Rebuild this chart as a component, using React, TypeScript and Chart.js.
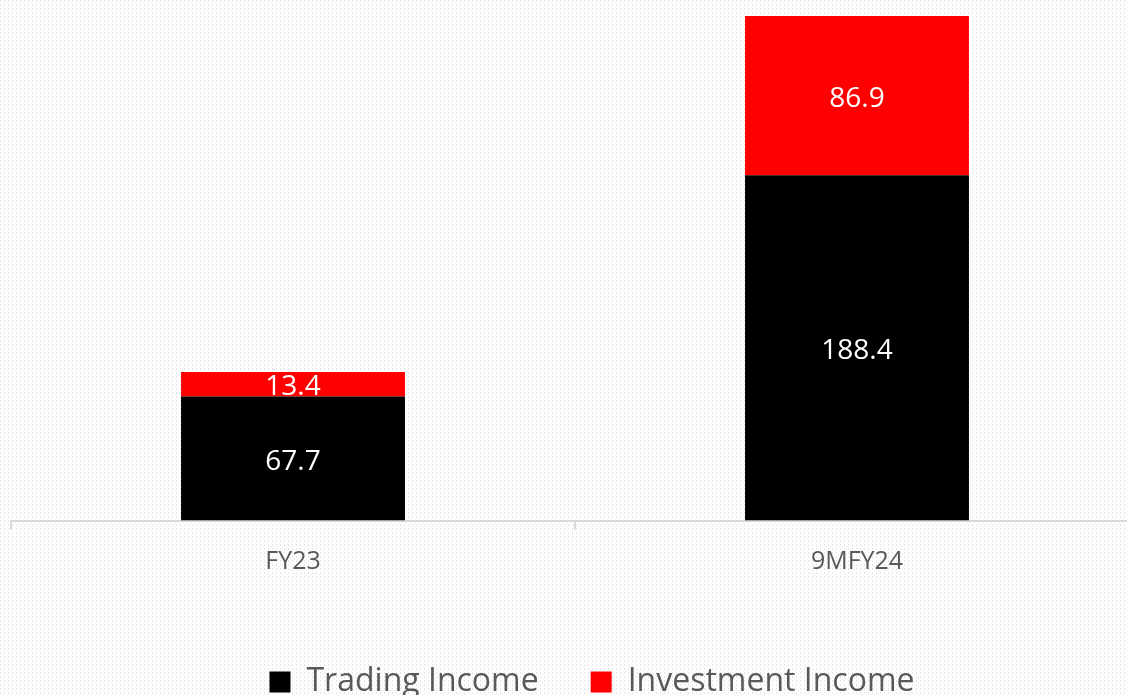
import React, { useEffect, useRef } from "react";
import { Chart, registerables } from "chart.js";

Chart.register(...registerables);

const categories = ["FY23", "9MFY24"];
const tradingIncome = [67.7, 188.4];
const investmentIncome = [13.4, 86.9];
const seriesNames = ["Trading Income", "Investment Income"];

const bgPlugin = {
  id: "bgPattern",
  beforeDraw(chart: any) {
    const { ctx, width, height } = chart;
    const tile = document.createElement("canvas");
    tile.width = 4;
    tile.height = 4;
    const t = tile.getContext("2d")!;
    t.fillStyle = "#ffffff";
    t.fillRect(0, 0, 4, 4);
    t.fillStyle = "#e6e6e6";
    t.fillRect(0, 0, 1, 2);
    t.fillStyle = "#eeeeee";
    t.fillRect(2, 2, 1, 1);
    const pat = ctx.createPattern(tile, "repeat");
    ctx.save();
    ctx.fillStyle = pat;
    ctx.fillRect(0, 0, width, height);
    ctx.restore();
  },
};

const legendShift = {
  id: "legendShift",
  afterLayout(chart: any) {
    const lg = chart.legend;
    if (lg) {
      lg.left += 17;
      lg.right += 17;
    }
  },
};

const labelPlugin = {
  id: "barLabels",
  afterDatasetsDraw(chart: any) {
    const { ctx } = chart;
    ctx.save();
    ctx.fillStyle = "#ffffff";
    ctx.font = "28px 'Open Sans'";
    ctx.textAlign = "center";
    ctx.textBaseline = "middle";
    chart.data.datasets.forEach((ds: any, i: number) => {
      const meta = chart.getDatasetMeta(i);
      meta.data.forEach((bar: any, j: number) => {
        const v = ds.data[j];
        const y = (bar.y + bar.base) / 2 + 3;
        ctx.fillText(v.toFixed(1), bar.x, y);
      });
    });
    ctx.restore();
  },
};

export default function App() {
  const ref = useRef<HTMLCanvasElement>(null);
  useEffect(() => {
    const chart = new Chart(ref.current!, {
      type: "bar",
      data: {
        labels: categories,
        datasets: [
          { label: seriesNames[0], data: tradingIncome, backgroundColor: "#000000" },
          { label: seriesNames[1], data: investmentIncome, backgroundColor: "#ff0000" },
        ],
      },
      options: {
        animation: false,
        responsive: false,
        devicePixelRatio: 1,
        layout: { padding: { left: 11, right: 11, top: 0, bottom: 0 } },
        datasets: { bar: { barPercentage: 0.397, categoryPercentage: 1 } },
        scales: {
          x: {
            stacked: true,
            grid: {
              offset: true,
              drawOnChartArea: false,
              drawTicks: true,
              tickLength: 9,
              color: "#d9d9d9",
              lineWidth: 2,
            },
            border: { display: true, color: "#d9d9d9", width: 2 },
            ticks: {
              color: "#595959",
              font: { family: "'Open Sans'", size: 25 },
              padding: 17,
            },
            title: {
              display: true,
              text: " ",
              color: "rgba(0,0,0,0)",
              font: { size: 12 },
              padding: { top: 0, bottom: 6 },
            },
          },
          y: {
            stacked: true,
            display: false,
            min: 0,
            max: 284,
          },
        },
        plugins: {
          legend: {
            position: "bottom",
            labels: {
              boxWidth: 21,
              boxHeight: 21,
              padding: 52,
              color: "#595959",
              font: { family: "'Open Sans'", size: 32 },
            },
          },
          tooltip: { enabled: false },
        },
      },
      plugins: [bgPlugin, legendShift, labelPlugin],
    });
    return () => chart.destroy();
  }, []);
  return (
    <div style={{ position: "fixed", left: 0, top: 0, width: 1127, height: 695, overflow: "hidden" }}>
      <canvas ref={ref} width={1150} height={708} style={{ display: "block" }} />
    </div>
  );
}
